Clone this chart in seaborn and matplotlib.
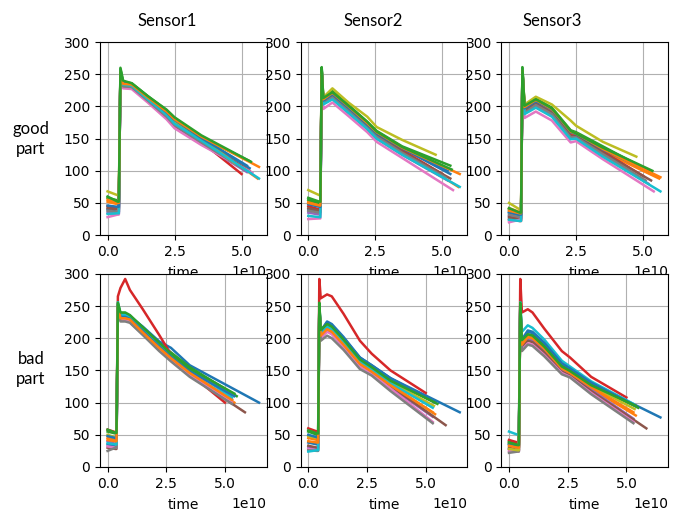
import numpy as np
import pandas as pd
import matplotlib
matplotlib.use("Agg")
import matplotlib.pyplot as plt
import seaborn as sns

# ---------------------------------------------------------------------------
# Sensor traces, time in units of 1e10.  Each panel shares a set of time knots;
# the last knot of every trace is its own end time.
# ---------------------------------------------------------------------------
T_SCALE = 1e10
sensors = ["Sensor1", "Sensor2", "Sensor3"]
parts = ["good\npart", "bad\npart"]

good_end = [5.3, 5.6, 5.3, 5.0, 5.2, 5.3, 5.4, 5.1, 4.75, 5.65, 5.2, 5.65, 5.35]
bad_end = [6.45, 5.4, 5.5, 5.0, 5.3, 5.85, 5.3, 5.3, 5.35, 5.3, 5.4, 5.3, 5.4]

good_s1_knots = [0.0, 0.38, 0.42, 0.48, 0.58, 0.90, 1.50, 2.20, 2.50, 3.50]
good_s1 = [
    [40, 36, 36, 255, 236, 234, 214, 188, 176, 150, 104],
    [52, 48, 48, 252, 234, 233, 212, 190, 178, 150, 88],
    [58, 54, 54, 258, 238, 236, 216, 194, 182, 152, 115],
    [45, 42, 42, 250, 232, 230, 210, 186, 172, 145, 95],
    [35, 33, 33, 254, 230, 229, 208, 182, 168, 142, 98],
    [42, 40, 40, 251, 233, 231, 211, 185, 170, 146, 100],
    [28, 32, 32, 256, 228, 227, 206, 180, 166, 140, 97],
    [38, 36, 36, 253, 231, 230, 209, 184, 171, 144, 102],
    [68, 62, 62, 255, 236, 235, 213, 190, 177, 150, 112],
    [33, 34, 34, 257, 234, 232, 211, 187, 173, 147, 88],
    [46, 44, 44, 252, 237, 235, 215, 191, 179, 151, 108],
    [55, 50, 50, 254, 235, 234, 214, 192, 180, 153, 106],
    [60, 52, 52, 260, 240, 236, 216, 195, 183, 155, 114],
]

good_s2_knots = [0.0, 0.42, 0.45, 0.50, 0.56, 0.90, 1.50, 2.20, 2.55, 3.50]
good_s2 = [
    [40, 38, 38, 258, 210, 220, 198, 172, 158, 135, 95],
    [52, 48, 48, 255, 208, 218, 196, 170, 156, 130, 75],
    [55, 50, 50, 260, 212, 224, 202, 176, 162, 138, 108],
    [45, 40, 40, 254, 206, 216, 194, 168, 154, 132, 95],
    [35, 32, 32, 256, 204, 212, 190, 165, 150, 125, 85],
    [42, 38, 38, 253, 207, 217, 195, 170, 155, 130, 88],
    [25, 26, 26, 255, 196, 206, 185, 160, 145, 120, 70],
    [38, 35, 35, 252, 205, 214, 193, 167, 153, 128, 90],
    [70, 62, 62, 257, 214, 228, 206, 184, 168, 148, 125],
    [30, 28, 28, 258, 203, 211, 190, 165, 150, 125, 75],
    [48, 44, 44, 255, 209, 219, 198, 172, 158, 135, 100],
    [50, 46, 46, 256, 211, 221, 200, 174, 160, 136, 95],
    [58, 52, 52, 261, 213, 222, 201, 176, 161, 137, 102],
]

good_s3_knots = [0.0, 0.40, 0.45, 0.50, 0.58, 1.00, 1.60, 2.30, 2.50, 3.50]
good_s3 = [
    [35, 30, 30, 258, 198, 210, 196, 160, 158, 135, 95],
    [42, 36, 36, 255, 195, 206, 192, 157, 155, 130, 88],
    [40, 34, 34, 260, 200, 212, 198, 163, 160, 138, 98],
    [25, 22, 22, 254, 192, 204, 190, 155, 154, 130, 92],
    [30, 26, 26, 256, 190, 200, 186, 150, 150, 124, 80],
    [28, 25, 25, 253, 193, 204, 190, 154, 153, 128, 85],
    [20, 24, 24, 255, 182, 192, 178, 144, 146, 118, 68],
    [32, 28, 28, 252, 190, 202, 188, 152, 152, 126, 85],
    [50, 40, 40, 257, 203, 215, 203, 178, 170, 145, 122],
    [24, 22, 22, 258, 188, 198, 184, 149, 150, 122, 68],
    [36, 32, 32, 255, 197, 208, 195, 160, 157, 133, 100],
    [38, 34, 34, 256, 199, 210, 196, 161, 158, 134, 90],
    [42, 35, 35, 261, 201, 211, 197, 162, 158, 136, 100],
]

bad_s1_knots = [0.0, 0.34, 0.38, 0.44, 0.55, 0.75, 0.95, 1.50, 2.20, 2.70, 3.50]
bad_s1 = [
    [35, 32, 32, 252, 236, 236, 234, 218, 195, 185, 158, 100],
    [45, 42, 42, 250, 232, 232, 230, 212, 188, 172, 148, 100],
    [55, 52, 52, 254, 238, 238, 235, 216, 192, 178, 155, 110],
    [58, 54, 54, 265, 278, 292, 275, 245, 205, 175, 145, 100],
    [40, 36, 36, 250, 230, 230, 228, 208, 184, 168, 145, 105],
    [30, 28, 28, 248, 228, 228, 225, 206, 182, 166, 142, 85],
    [32, 30, 30, 250, 229, 229, 226, 207, 183, 167, 143, 102],
    [25, 30, 30, 248, 226, 226, 224, 205, 180, 164, 140, 98],
    [50, 46, 46, 252, 234, 234, 231, 212, 188, 172, 150, 112],
    [37, 35, 35, 256, 236, 236, 233, 214, 190, 175, 152, 108],
    [48, 45, 45, 251, 233, 233, 230, 211, 187, 171, 149, 110],
    [42, 40, 40, 250, 231, 231, 229, 209, 185, 169, 146, 104],
    [58, 53, 53, 255, 240, 240, 236, 217, 193, 176, 153, 114],
]

bad_s2_knots = [0.0, 0.38, 0.42, 0.47, 0.53, 0.80, 1.00, 1.50, 2.20, 2.70, 3.50]
bad_s2 = [
    [38, 35, 35, 250, 210, 224, 220, 200, 170, 158, 138, 85],
    [45, 42, 42, 248, 205, 216, 212, 192, 162, 150, 128, 82],
    [55, 50, 50, 254, 212, 224, 220, 200, 168, 156, 136, 98],
    [60, 55, 55, 292, 262, 268, 265, 238, 196, 176, 150, 115],
    [30, 28, 28, 250, 202, 212, 208, 188, 158, 146, 124, 78],
    [33, 30, 30, 248, 203, 214, 210, 190, 160, 148, 126, 65],
    [28, 26, 26, 252, 200, 210, 206, 186, 156, 145, 122, 70],
    [26, 25, 25, 248, 196, 204, 200, 182, 152, 142, 118, 68],
    [48, 45, 45, 250, 208, 220, 216, 196, 165, 153, 132, 95],
    [24, 26, 26, 253, 207, 218, 214, 194, 164, 152, 130, 92],
    [50, 46, 46, 251, 211, 226, 222, 202, 170, 158, 138, 100],
    [40, 38, 38, 249, 204, 214, 210, 190, 160, 148, 127, 85],
    [57, 52, 52, 255, 213, 222, 218, 198, 167, 155, 134, 100],
]

bad_s3_knots = [0.0, 0.38, 0.42, 0.48, 0.55, 0.80, 1.00, 1.50, 2.25, 2.60, 3.50]
bad_s3 = [
    [35, 30, 30, 250, 195, 210, 208, 192, 160, 152, 130, 77],
    [38, 32, 32, 248, 188, 200, 198, 182, 152, 145, 122, 80],
    [40, 35, 35, 254, 196, 206, 204, 188, 157, 150, 128, 92],
    [42, 38, 38, 292, 240, 245, 240, 215, 180, 170, 140, 108],
    [28, 25, 25, 250, 186, 198, 196, 180, 150, 144, 120, 75],
    [30, 26, 26, 248, 185, 196, 194, 178, 148, 142, 118, 60],
    [25, 24, 24, 252, 182, 192, 190, 174, 146, 140, 115, 70],
    [22, 24, 24, 248, 180, 190, 188, 172, 144, 139, 113, 68],
    [28, 26, 26, 250, 192, 204, 202, 186, 155, 148, 126, 90],
    [55, 50, 50, 256, 210, 220, 216, 198, 165, 156, 133, 98],
    [36, 32, 32, 251, 198, 212, 210, 193, 161, 153, 131, 95],
    [33, 30, 30, 249, 190, 202, 200, 184, 153, 146, 124, 85],
    [38, 34, 34, 255, 197, 206, 204, 187, 156, 149, 127, 95],
]

panels = [
    [(good_s1_knots, good_s1, good_end), (good_s2_knots, good_s2, good_end), (good_s3_knots, good_s3, good_end)],
    [(bad_s1_knots, bad_s1, bad_end), (bad_s2_knots, bad_s2, bad_end), (bad_s3_knots, bad_s3, bad_end)],
]


def panel_frame(knots, traces, ends):
    rows = []
    for i, (vals, end) in enumerate(zip(traces, ends)):
        times = list(knots) + [end]
        for t, v in zip(times, vals):
            rows.append({"trace": i, "time": t * T_SCALE, "value": v})
    return pd.DataFrame(rows)


plt.rcParams["font.family"] = "DejaVu Sans"
plt.rcParams["font.size"] = 10

fig, axes = plt.subplots(2, 3, figsize=(6.73, 5.13), dpi=100)
fig.subplots_adjust(left=100 / 673, right=668 / 673, top=1 - 42 / 513,
                    bottom=1 - 467 / 513, wspace=0.205, hspace=0.2)

tab10 = sns.color_palette("tab10")

for r in range(2):
    for c in range(3):
        ax = axes[r, c]
        knots, traces, ends = panels[r][c]
        df = panel_frame(knots, traces, ends)
        pal = [tab10[i % 10] for i in range(len(traces))]
        sns.lineplot(data=df, x="time", y="value", hue="trace", palette=pal,
                     estimator=None, sort=False, legend=False, linewidth=1.8,
                     ax=ax)
        ax.set_ylim(0, 300)
        ax.set_yticks([0, 50, 100, 150, 200, 250, 300])
        ax.set_xticks([0, 2.5e10, 5e10])
        ax.grid(True, color="#b0b0b0", linewidth=0.8)
        ax.set_xlabel("time", labelpad=5)
        ax.set_ylabel("")

# The axis multiplier sits on the same line as the "time" label.
fig.canvas.draw()
for ax in axes.flat:
    offset = ax.xaxis.get_major_formatter().get_offset()
    ax.xaxis.get_offset_text().set_visible(False)
    ax.annotate(offset, xy=(1.0, 0.0), xycoords="axes fraction",
                xytext=(0, -37), textcoords="offset pixels",
                ha="right", va="center", fontsize=10)

title_x = [167, 373, 552]
for name, x in zip(sensors, title_x):
    fig.text(x / 673, 1 - 21 / 513, name, ha="center", va="center",
             fontsize=12, family=["Lato", "DejaVu Sans"])

fig.text(31 / 673, 1 - 139 / 513, parts[0], ha="center", va="center",
         fontsize=12, family=["Lato", "DejaVu Sans"], linespacing=1.25)
fig.text(31 / 673, 1 - 369 / 513, parts[1], ha="center", va="center",
         fontsize=12, family=["Lato", "DejaVu Sans"], linespacing=1.25)

fig.savefig("out.png", dpi=100)
